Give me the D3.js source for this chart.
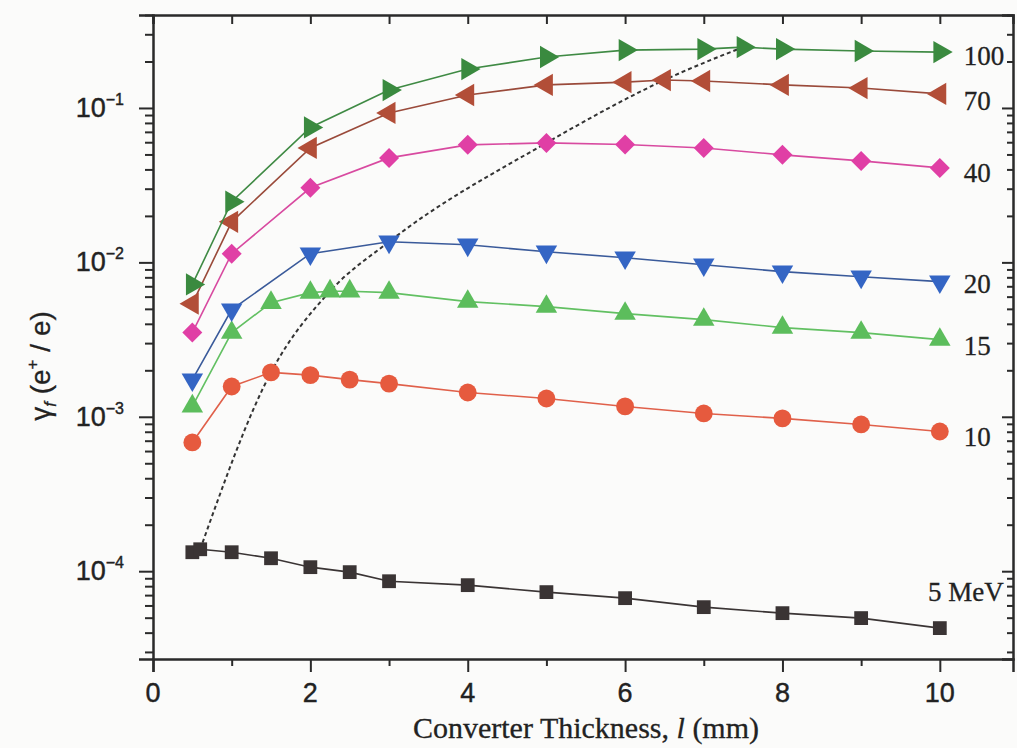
<!DOCTYPE html>
<html>
<head>
<meta charset="utf-8">
<script src="https://cdn.jsdelivr.net/npm/d3@7"></script>
<style>
  html, body { margin: 0; padding: 0; background: #fbfbfa; }
  svg { display: block; }
</style>
</head>
<body>
<svg id="chart" width="1017" height="748"></svg>
<script>
// ---------- data ----------
const xTicks = [0, 2, 4, 6, 8, 10];
const xMinorTicks = [1, 3, 5, 7, 9];
const yTicks = [1e-4, 1e-3, 1e-2, 1e-1];
const yTickExp = ["-4", "-3", "-2", "-1"];

const x100 = [0.5, 1, 2, 3, 4, 5, 6, 7, 7.5, 8, 9, 10];
const y100 = [0.0072, 0.0247, 0.0748, 0.1306, 0.1787, 0.2138, 0.237, 0.2405, 0.2477, 0.2405, 0.2338, 0.230];

const x70 = [0.5, 1, 2, 3, 4, 5, 6, 6.5, 7, 8, 9, 10];
const y70 = [0.0054, 0.0183, 0.0551, 0.0928, 0.1213, 0.141, 0.147, 0.1517, 0.1495, 0.141, 0.1346, 0.1233];

const x40 = [0.5, 1, 2, 3, 4, 5, 6, 7, 8, 9, 10];
const y40 = [0.00351, 0.01138, 0.0304, 0.0475, 0.0577, 0.0594, 0.058, 0.0551, 0.0497, 0.0454, 0.0409];

const x20 = [0.5, 1, 2, 3, 4, 5, 6, 7, 8, 9, 10];
const y20 = [0.00174, 0.00494, 0.01138, 0.0136, 0.0130, 0.01172, 0.01072, 0.00966, 0.00871, 0.00807, 0.0075];

const x15 = [0.5, 1, 1.5, 2, 2.25, 2.5, 3, 4, 5, 6, 7, 8, 9, 10];
const y15 = [0.00117, 0.00351, 0.00548, 0.00637, 0.0065, 0.0065, 0.00637, 0.00557, 0.00517, 0.00466, 0.00426, 0.00378, 0.00351, 0.00316];

const x10 = [0.5, 1, 1.5, 2, 2.5, 3, 4, 5, 6, 7, 8, 9, 10];
const y10 = [0.000682, 0.00157, 0.00194, 0.00186, 0.00174, 0.00164, 0.001436, 0.001314, 0.001167, 0.001051, 0.000976, 0.000892, 0.000803];

const x5 = [0.5, 0.6, 1, 1.5, 2, 2.5, 3, 4, 5, 6, 7, 8, 9, 10];
const y5 = [0.0001327, 0.0001387, 0.0001327, 0.0001213, 0.0001062, 0.0000986, 0.0000861, 0.0000812, 0.0000732, 0.0000669, 0.0000585, 0.0000535, 0.0000497, 0.0000428];

// ridge through the maxima of each curve (dotted)
const ridgeX = [0.6, 1.5, 2.25, 3, 5, 6.5, 7.5];
const ridgeY = [0.0001387, 0.00194, 0.0065, 0.0136, 0.0594, 0.1517, 0.2477];

const seriesLabels = ["100", "70", "40", "20", "15", "10", "5 MeV"];

// ---------- styles ----------
const series = [
  {xs: x100, ys: y100, label: seriesLabels[0], color: "#3a8a3f", line: "#3f8a44", shape: "triR", ldx: 24, ldy: 13, anchor: "start"},
  {xs: x70,  ys: y70,  label: seriesLabels[1], color: "#b24e38", line: "#9a4a3a", shape: "triL", ldx: 24, ldy: 16, anchor: "start"},
  {xs: x40,  ys: y40,  label: seriesLabels[2], color: "#e03fa5", line: "#d84aa0", shape: "diamond", ldx: 24, ldy: 14, anchor: "start"},
  {xs: x20,  ys: y20,  label: seriesLabels[3], color: "#3465c4", line: "#3a5a9a", shape: "triD", ldx: 24, ldy: 11, anchor: "start"},
  {xs: x15,  ys: y15,  label: seriesLabels[4], color: "#5cbd5c", line: "#62c062", shape: "triU", ldx: 24, ldy: 15, anchor: "start"},
  {xs: x10,  ys: y10,  label: seriesLabels[5], color: "#e65a3e", line: "#e0604a", shape: "circle", ldx: 24, ldy: 15, anchor: "start"},
  {xs: x5,   ys: y5,   label: seriesLabels[6], color: "#3a3434", line: "#3a3434", shape: "square", ldx: 64, ldy: -27, anchor: "end"}
];

const svg = d3.select("#chart");
const L = 153, R = 1013, T = 15, B = 659;

const x = d3.scaleLinear().domain([0, 10.93]).range([L, R]);
const y = d3.scaleLog().domain([2.7e-5, 0.4]).range([B, T]);

const sansFont = "'Liberation Sans', Arial, sans-serif";
const serifFont = "'Liberation Serif', 'Times New Roman', serif";
const textColor = "#222";

// ---------- axes ----------
const axisColor = "#2a2a2a";
const yMinor = [];
for (let e = -5; e <= 0; e++) {
  for (let k = 2; k <= 9; k++) {
    const v = k * Math.pow(10, e);
    if (v >= 2.7e-5 && v <= 0.4) yMinor.push(v);
  }
}

// left axis
svg.append("g").attr("transform", `translate(${L},0)`)
  .call(d3.axisLeft(y).tickValues(yTicks).tickSize(14).tickFormat(""));
svg.append("g").attr("transform", `translate(${L},0)`)
  .call(d3.axisLeft(y).tickValues(yMinor).tickSize(8).tickFormat(""))
  .select(".domain").remove();
// right axis (ticks inward)
svg.append("g").attr("transform", `translate(${R},0)`)
  .call(d3.axisRight(y).tickValues(yTicks).tickSize(-11).tickFormat(""));
svg.append("g").attr("transform", `translate(${R},0)`)
  .call(d3.axisRight(y).tickValues(yMinor).tickSize(-6).tickFormat(""))
  .select(".domain").remove();
// bottom axis
svg.append("g").attr("transform", `translate(0,${B})`)
  .call(d3.axisBottom(x).tickValues(xTicks).tickSize(13).tickFormat(""));
svg.append("g").attr("transform", `translate(0,${B})`)
  .call(d3.axisBottom(x).tickValues(xMinorTicks).tickSize(7).tickFormat(""))
  .select(".domain").remove();
// top axis (ticks inward)
svg.append("g").attr("transform", `translate(0,${T})`)
  .call(d3.axisTop(x).tickValues(xTicks.concat(xMinorTicks)).tickSize(-9).tickFormat(""));

svg.selectAll(".domain").attr("stroke", axisColor).attr("stroke-width", 2.5);
svg.selectAll(".tick line").attr("stroke", axisColor).attr("stroke-width", 2);

// y tick labels 10^n
yTicks.forEach((v, i) => {
  const t = svg.append("text")
    .attr("x", 124).attr("y", y(v) + 9)
    .attr("text-anchor", "end")
    .attr("font-family", sansFont).attr("font-size", 27)
    .attr("fill", textColor).attr("stroke", textColor).attr("stroke-width", 0.4);
  t.append("tspan").text("10");
  t.append("tspan").attr("font-size", 16).attr("dy", -12).text(yTickExp[i].replace("-", "\u2212"));
});
// x tick labels
svg.selectAll(".xlab").data(xTicks).enter().append("text")
  .attr("class", "xlab")
  .attr("x", d => x(d)).attr("y", 702)
  .attr("text-anchor", "middle")
  .attr("font-family", sansFont).attr("font-size", 27)
  .attr("fill", textColor).attr("stroke", textColor).attr("stroke-width", 0.4)
  .text(d => d);

// x title
const xt = svg.append("text")
  .attr("x", 586).attr("y", 738)
  .attr("text-anchor", "middle")
  .attr("font-family", serifFont).attr("font-size", 30)
  .attr("fill", textColor).attr("stroke", textColor).attr("stroke-width", 0.3);
xt.append("tspan").text("Converter Thickness, ");
xt.append("tspan").attr("font-style", "italic").text("l");
xt.append("tspan").text(" (mm)");

// y title
const yt = svg.append("text")
  .attr("transform", "translate(50,366) rotate(-90)")
  .attr("text-anchor", "middle")
  .attr("font-family", sansFont).attr("font-size", 28)
  .attr("fill", textColor).attr("stroke", textColor).attr("stroke-width", 0.3);
yt.append("tspan").text("\u03B3");
yt.append("tspan").attr("font-size", 17).attr("font-style", "italic").attr("dy", 6).text("f");
yt.append("tspan").attr("dy", -6).text(" (e");
yt.append("tspan").attr("font-size", 17).attr("dy", -12).text("+");
yt.append("tspan").attr("dy", 12).text(" / e)");

// ---------- ridge line (dotted) ----------
const ridge = ridgeX.map((d, i) => [d, ridgeY[i]]);
svg.append("path")
  .datum(ridge)
  .attr("fill", "none")
  .attr("stroke", "#333")
  .attr("stroke-width", 2)
  .attr("stroke-dasharray", "4,3")
  .attr("d", d3.line().x(d => x(d[0])).y(d => y(d[1])).curve(d3.curveMonotoneX));

// ---------- series ----------
const symbolFor = {
  triR: {type: d3.symbolTriangle, size: 215, rot: 90},
  triL: {type: d3.symbolTriangle, size: 215, rot: -90},
  triD: {type: d3.symbolTriangle, size: 200, rot: 180},
  triU: {type: d3.symbolTriangle, size: 200, rot: 0},
  diamond: {type: d3.symbolSquare, size: 200, rot: 45},
  circle: {type: d3.symbolCircle, size: 250, rot: 0},
  square: {type: d3.symbolSquare, size: 190, rot: 0}
};

const lineGen = d3.line().x(d => x(d[0])).y(d => y(d[1]));

series.slice().reverse().forEach(s => {
  const pts = s.xs.map((d, i) => [d, s.ys[i]]);
  svg.append("path")
    .datum(pts)
    .attr("fill", "none")
    .attr("stroke", s.line)
    .attr("stroke-width", 1.6)
    .attr("d", lineGen);
  const sym = symbolFor[s.shape];
  svg.selectAll(null).data(pts).enter().append("path")
    .attr("transform", d => `translate(${x(d[0])},${y(d[1])}) rotate(${sym.rot})`)
    .attr("d", d3.symbol().type(sym.type).size(sym.size))
    .attr("fill", s.color);
  const last = pts[pts.length - 1];
  svg.append("text")
    .attr("x", x(last[0]) + s.ldx).attr("y", y(last[1]) + s.ldy)
    .attr("text-anchor", s.anchor)
    .attr("font-family", serifFont).attr("font-size", 27)
    .attr("fill", textColor).attr("stroke", textColor).attr("stroke-width", 0.3)
    .text(s.label);
});
</script>
</body>
</html>
